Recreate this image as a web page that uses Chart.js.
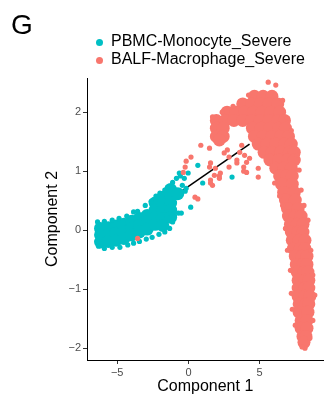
<!DOCTYPE html>
<html>
<head>
<meta charset="utf-8">
<script src="https://cdn.jsdelivr.net/npm/chart.js@4/dist/chart.umd.min.js"></script>
<style>
  body { margin: 0; background: #fff; }
  #wrap { position: relative; width: 330px; height: 396px; font-family: 'Liberation Sans', Arial, sans-serif; }
  #panel { position: absolute; left: 11px; top: 11px; font-size: 28px; line-height: 28px; color: #000; }
  .key { position: absolute; left: 111px; font-size: 16px; line-height: 16px; color: #000; white-space: nowrap; }
  .dot { position: absolute; left: -15px; top: 6px; width: 7px; height: 7px; border-radius: 50%; }
</style>
</head>
<body>
<div id="wrap">
  <canvas id="myChart" width="330" height="396"></canvas>
  <div id="panel">G</div>
  <div class="key" style="top:33px"><span class="dot" style="background:#00BFC4"></span>PBMC-Monocyte_Severe</div>
  <div class="key" style="top:51px"><span class="dot" style="background:#F8766D"></span>BALF-Macrophage_Severe</div>
</div>
<script>
//---------------------------- data ----------------------------
const groups = ['PBMC-Monocyte_Severe', 'BALF-Macrophage_Severe'];
const xTicks = [-5, 0, 5];
const yTicks = [-2, -1, 0, 1, 2];

// dense part of the monocyte cloud
const cyanCore = [
  [-6.17, 0.03], [-6.17, -0.08], [-6.17, -0.20],
  [-5.63, 0.04], [-5.63, -0.08], [-5.63, -0.19],
  [-5.08, 0.07], [-5.08, -0.05], [-5.08, -0.17],
  [-4.53, 0.10], [-4.53, -0.02], [-4.53, -0.14],
  [-3.98, 0.15], [-3.98, 0.03], [-3.98, -0.08],
  [-3.44, 0.20], [-3.44, 0.08], [-3.44, -0.03],
  [-2.89, 0.25], [-2.89, 0.14], [-2.89, 0.02],
  [-2.34, 0.46], [-2.34, 0.34], [-2.34, 0.22], [-2.34, 0.10],
  [-1.80, 0.56], [-1.80, 0.44], [-1.80, 0.32], [-1.80, 0.20], [-1.80, 0.08],
  [-1.25, 0.69], [-1.25, 0.58], [-1.25, 0.46], [-1.25, 0.34], [-1.25, 0.22],
  [-0.75, 0.62]
];
// edge + stray monocyte cells
const cyanCells = [
  [-6.38, 0.14], [-5.90, 0.15], [-5.35, 0.17], [-4.87, 0.20], [-4.33, 0.24],
  [-3.85, 0.31], [-3.57, 0.32], [-3.03, 0.42], [-2.62, 0.49], [-2.28, 0.58],
  [-2.00, 0.63], [-1.66, 0.68], [-1.46, 0.73], [-1.11, 0.81], [-0.84, 0.88],
  [-0.57, 0.92], [-0.29, 0.88], [-0.43, 0.76], [-0.23, 0.66], [-0.64, 0.97],
  [-0.02, 0.97], [-0.16, 0.71],
  [-6.31, -0.27], [-5.90, -0.31], [-5.35, -0.29], [-4.81, -0.29], [-4.26, -0.25],
  [-3.85, -0.22], [-3.44, -0.19], [-2.96, -0.15], [-2.55, -0.12], [-2.07, -0.07],
  [-1.66, -0.03], [-1.32, 0.03], [-1.11, 0.14], [-0.98, 0.24], [-0.70, 0.29],
  [-1.18, 0.25], [-0.50, 0.29], [0.16, 0.39],
  [0.66, 1.10], [1.00, 0.80], [3.06, 0.90]
];

// dense part of the macrophage arch
const pinkCore = [
  [4.63, 2.27], [5.24, 2.27], [5.86, 2.27],
  [3.81, 2.14], [4.42, 2.14], [5.04, 2.14], [5.65, 2.14], [6.27, 2.14],
  [2.71, 2.00], [3.33, 2.00], [3.94, 2.00], [4.56, 2.00], [5.17, 2.00], [5.79, 2.00], [6.40, 2.00],
  [1.96, 1.86], [2.58, 1.86], [3.19, 1.86], [3.81, 1.86], [4.42, 1.86], [5.04, 1.86], [5.65, 1.86], [6.27, 1.86], [6.74, 1.86],
  [1.96, 1.73], [2.44, 1.73], [4.49, 1.73], [5.11, 1.73], [5.72, 1.73], [6.34, 1.73], [6.81, 1.73],
  [1.96, 1.59], [2.44, 1.59], [4.63, 1.59], [5.24, 1.59], [5.86, 1.59], [6.47, 1.59], [7.02, 1.59],
  [2.17, 1.53],
  [4.90, 1.46], [5.52, 1.46], [6.13, 1.46], [6.74, 1.46], [7.22, 1.46],
  [5.31, 1.32], [5.86, 1.32], [6.47, 1.32], [7.09, 1.32], [7.43, 1.32],
  [5.72, 1.19], [6.34, 1.19], [6.95, 1.19], [7.43, 1.19],
  [6.13, 1.05], [6.68, 1.05], [7.22, 1.05],
  [6.40, 0.92], [6.88, 0.92], [7.29, 0.92],
  [6.54, 0.78], [7.29, 0.78],
  [6.68, 0.64], [7.43, 0.64],
  [6.81, 0.51], [7.50, 0.51],
  [6.95, 0.37], [7.70, 0.37],
  [7.02, 0.24], [7.50, 0.24], [7.91, 0.24],
  [7.16, 0.10], [7.63, 0.10], [8.04, 0.10],
  [7.22, -0.03], [7.70, -0.03], [8.04, -0.03],
  [7.29, -0.17], [7.77, -0.17], [8.18, -0.17],
  [7.36, -0.31], [7.84, -0.31], [8.18, -0.31],
  [7.50, -0.44], [7.98, -0.44], [8.32, -0.44],
  [7.57, -0.58], [8.04, -0.58], [8.32, -0.58],
  [7.63, -0.71], [8.11, -0.71], [8.39, -0.71],
  [7.70, -0.85], [8.18, -0.85], [8.45, -0.85],
  [7.70, -0.98], [8.18, -0.98], [8.45, -0.98],
  [7.70, -1.12], [8.18, -1.12], [8.52, -1.12],
  [7.77, -1.25], [8.25, -1.25], [8.45, -1.25],
  [7.77, -1.39], [8.25, -1.39], [8.39, -1.39],
  [7.91, -1.53], [8.32, -1.53],
  [7.91, -1.66], [8.32, -1.66],
  [8.04, -1.80], [8.25, -1.80],
  [8.11, -1.90]
];
// edge + stray macrophage cells
const pinkCells = [
  [5.60, 2.51], [6.13, 2.46],
  [3.13, 2.10], [2.37, 2.00], [1.69, 1.92], [4.22, 2.29], [6.61, 2.20],
  [6.95, 1.90], [7.22, 1.69], [7.43, 1.49], [7.63, 1.27], [7.77, 1.02], [7.91, 0.68],
  [8.11, 0.42], [8.39, 0.17], [8.59, -0.34], [8.73, -0.76], [8.87, -1.10],
  [8.73, -1.53], [8.52, -1.83], [8.18, -2.00], [7.98, -1.98],
  [6.81, 0.03], [6.95, -0.34], [7.16, -0.68], [7.22, -1.07], [7.29, -1.34],
  [7.50, -1.61], [6.61, 0.42], [6.40, 0.58], [6.05, 0.80],
  [2.73, 1.36], [3.74, 1.44], [4.29, 1.22], [3.40, 1.14], [2.85, 1.07],
  [3.88, 1.00], [4.90, 1.05], [2.17, 0.92], [0.87, 1.44], [1.48, 1.39],
  [0.18, 1.24], [-0.16, 1.17], [-0.23, 1.07], [-0.36, 0.98], [1.55, 1.14],
  [1.89, 1.05], [2.24, 0.97], [2.17, 0.88], [1.55, 0.85], [1.69, 0.76],
  [2.85, 1.24], [3.40, 1.19], [3.88, 1.07], [4.08, 0.98], [0.46, 0.56],
  [0.66, 0.53], [2.51, 1.31], [1.48, 1.07], [1.82, 0.93], [1.55, 0.80],
  [4.90, 0.90], [3.60, 1.32], [3.94, 1.27], [4.08, 1.15],
  [-3.57, -0.14]
];

// trajectory backbone
const trajectory = [[-0.91, 0.59], [4.29, 1.46]];

const cyan = '#00BFC4';
const pink = '#F8766D';
const pts = arr => arr.map(p => ({ x: p[0], y: p[1] }));

Chart.defaults.font.family = "'Liberation Sans', Arial, sans-serif";

const ctx = document.getElementById('myChart');
const myChart = new Chart(ctx, {
    type: 'scatter',
    data: {
        datasets: [
            { label: groups[1], data: pts(pinkCells), backgroundColor: pink, pointRadius: 2.6, borderWidth: 0, order: 0 },
            { label: groups[1], data: pts(pinkCore), backgroundColor: pink, pointRadius: 6.5, borderWidth: 0, order: 1 },
            { label: groups[0], data: pts(cyanCells), backgroundColor: cyan, pointRadius: 2.6, borderWidth: 0, order: 2 },
            { label: groups[0], data: pts(cyanCore), backgroundColor: cyan, pointRadius: 6.5, borderWidth: 0, order: 3 },
            {
                label: 'trajectory', data: pts(trajectory), showLine: true,
                borderColor: '#000', borderWidth: 1.5, pointRadius: 0, order: 4
            }
        ]
    },
    options: {
        responsive: false,
        animation: false,
        events: [],
        layout: { padding: { top: 78, right: 1, bottom: 0, left: 0 } },
        plugins: {
            legend: { display: false },
            tooltip: { enabled: false },
        },
        scales: {
            x: {
                type: 'linear',
                min: -7.12,
                max: 9.48,
                afterBuildTicks: s => { s.ticks = xTicks.map(v => ({ value: v })); },
                afterFit: s => { s.height = 36; },
                grid: { drawOnChartArea: false, drawTicks: true, tickLength: 4, color: '#333' },
                border: { display: true, color: '#000', width: 1 },
                ticks: {
                    padding: 2, color: '#4d4d4d', font: { size: 11 },
                    callback: v => String(v).replace('-', '\u2212')
                },
                title: {
                    display: true, text: 'Component 1', color: '#000',
                    font: { size: 16 }, padding: { top: 0, bottom: 0 }
                }
            },
            y: {
                type: 'linear',
                min: -2.2,
                max: 2.58,
                afterBuildTicks: s => { s.ticks = yTicks.map(v => ({ value: v })); },
                afterFit: s => { s.width = 87; },
                grid: { drawOnChartArea: false, drawTicks: true, tickLength: 4, color: '#333' },
                border: { display: true, color: '#000', width: 1 },
                ticks: {
                    padding: 2, color: '#4d4d4d', font: { size: 11 },
                    callback: v => String(v).replace('-', '\u2212')
                },
                title: {
                    display: true, text: 'Component 2', color: '#000',
                    font: { size: 16 }, padding: { top: 43, bottom: 0 }
                }
            }
        }
    }
});
</script>
</body>
</html>
